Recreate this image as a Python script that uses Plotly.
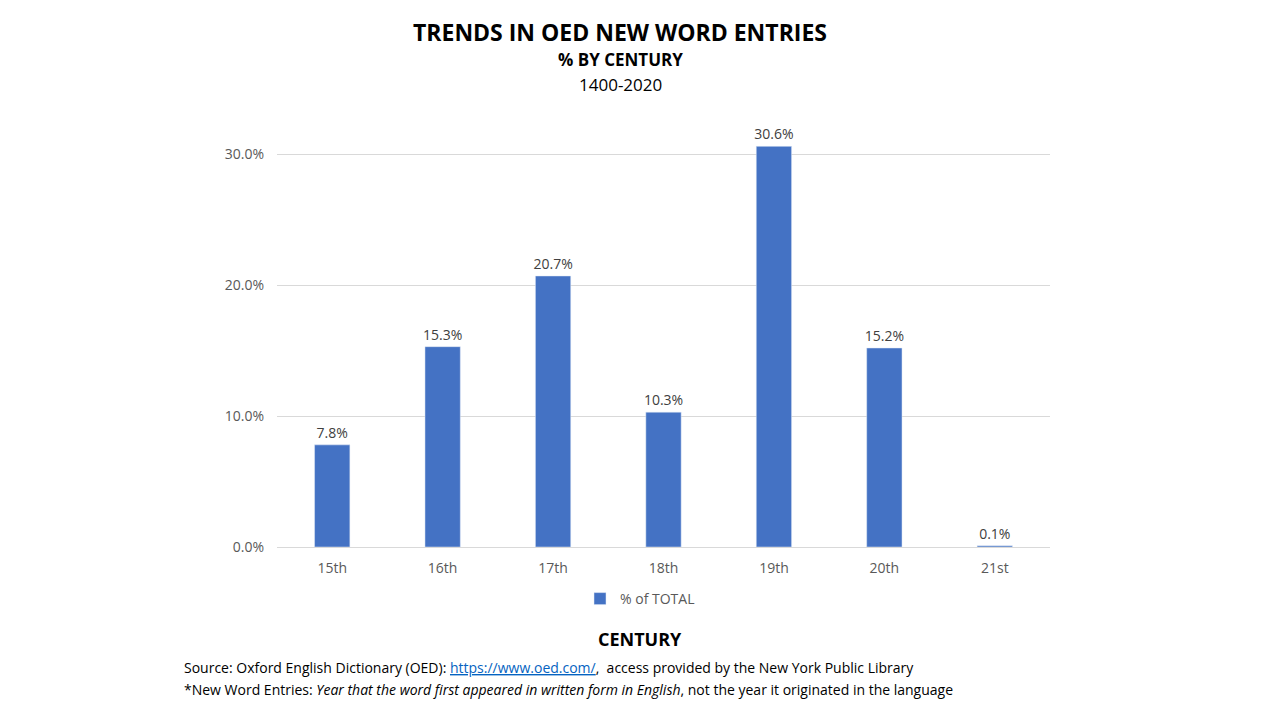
import plotly.graph_objects as go

centuries = ["15th", "16th", "17th", "18th", "19th", "20th", "21st"]
pct_total = [0.078, 0.153, 0.207, 0.103, 0.306, 0.152, 0.001]
y_ticks = [0.0, 0.1, 0.2, 0.3]
y_tick_labels = ["0.0%", "10.0%", "20.0%", "30.0%"]

FONT = "Open Sans"
OFF = 8  # page offset of the figure
L, R, T, B = 277 - OFF, 230 + OFF, 128 - OFF, 173 + OFF
W, H = 1280, 720
PW, PH = W - L - R, H - T - B


def px(X):
    return ((X - OFF) - L) / PW


def py(Y):
    return (H - B - (Y - OFF)) / PH


fig = go.Figure()
fig.add_trace(go.Bar(
    x=centuries, y=pct_total, name="% of TOTAL",
    marker_color="#4472C4",
    text=[f"{v*100:.1f}%" for v in pct_total],
    textposition="outside", cliponaxis=False, constraintext="none",
    textfont=dict(color="#404040", size=14, family=FONT),
))

fig.update_layout(
    width=W, height=H,
    paper_bgcolor="white", plot_bgcolor="white",
    margin=dict(l=L, r=R, t=T, b=B),
    bargap=0.68,
    showlegend=True,
    legend=dict(orientation="h", x=px(640), xanchor="center", y=py(599), yanchor="middle",
                font=dict(color="#595959", size=14, family=FONT)),
    font=dict(family=FONT, color="#595959"),
    yaxis=dict(range=[0, 0.32], tickvals=y_ticks, ticktext=y_tick_labels,
               showgrid=True, gridcolor="#d9d9d9", gridwidth=1, zeroline=False,
               tickfont=dict(size=14, color="#595959", family=FONT), ticks="",
               ticklabelstandoff=12, showline=False),
    xaxis=dict(showline=True, linecolor="#d9d9d9", linewidth=1, ticks="",
               ticklabelstandoff=8,
               tickfont=dict(size=14, color="#595959", family=FONT)),
)

annos = [
    ("<b>TRENDS IN OED NEW WORD ENTRIES</b>", 620, 32, 23),
    ("<b>% BY CENTURY</b>", 620, 60, 17),
    ("1400-2020", 620, 84, 17),
    ("<b>CENTURY</b>", 640, 639, 18),
]
for text, X, Y, size in annos:
    fig.add_annotation(text=text, xref="paper", yref="paper", x=px(X), y=py(Y),
                       xanchor="center", yanchor="middle", showarrow=False,
                       font=dict(size=size, color="black", family=FONT))

foot1 = ("Source: Oxford English Dictionary (OED): "
         "<a href='https://www.oed.com/' style='color:#0563C1;text-decoration:underline'>https://www.oed.com/</a>,"
         "  access provided by the New York Public Library")
foot2 = ("*New Word Entries: <i>Year that the word first appeared in written form in English</i>,"
         " not the year it originated in the language")
for txt, yy in [(foot1, 667), (foot2, 689)]:
    fig.add_annotation(text=txt, xref="paper", yref="paper",
                       x=px(182), y=py(yy),
                       xanchor="left", yanchor="middle", showarrow=False,
                       font=dict(size=14, color="black", family=FONT))

fig.write_html("out.html")
